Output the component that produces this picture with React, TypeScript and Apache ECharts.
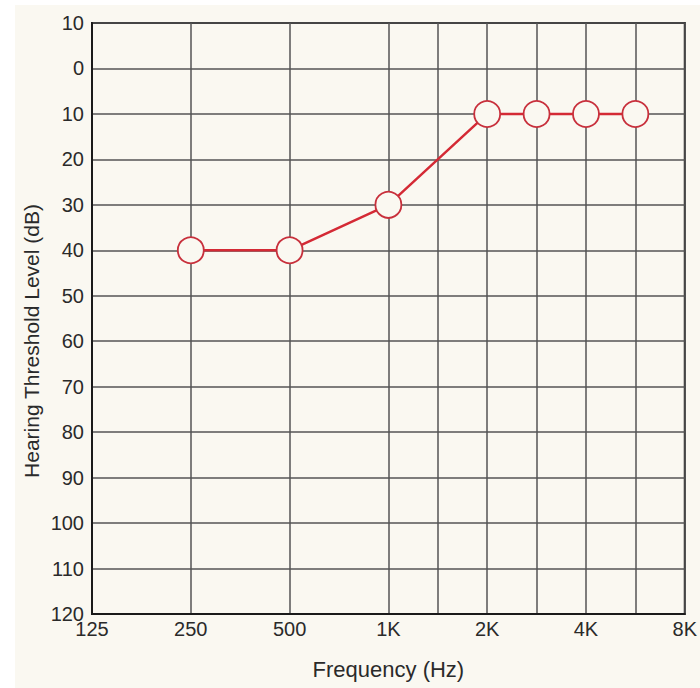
import React, { useEffect, useRef } from "react";
import * as echarts from "echarts";

// Half-octave frequency slots along the audiogram's x axis
const freqCategories = ["125", "177", "250", "354", "500", "750", "1K", "1.5K", "2K", "3K", "4K", "6K", "8K"];
// Octave labels shown under the axis
const freqTickLabels = ["125", "250", "500", "1K", "2K", "4K", "8K"];
// Frequencies that get a vertical grid line
const gridFrequencies = ["125", "250", "500", "1K", "1.5K", "2K", "3K", "4K", "6K", "8K"];
// Measured points
const measuredFrequencies = ["250", "500", "1K", "2K", "3K", "4K", "6K"];
const thresholdsDb = [40, 40, 30, 10, 10, 10, 10];

const CREAM = "#faf8f1";

export default function App() {
  const ref = useRef<HTMLDivElement>(null);

  useEffect(() => {
    document.body.style.margin = "0";
    if (!ref.current) return;
    const chart = echarts.init(ref.current, null, { renderer: "svg" });
    const font = "'Liberation Sans', Arial, Helvetica, sans-serif";
    chart.setOption({
      animation: false,
      backgroundColor: "#ffffff",
      graphic: [
        {
          type: "rect",
          z: -10,
          silent: true,
          shape: { x: 15, y: 5, width: 700, height: 700 },
          style: { fill: CREAM },
        },
        {
          type: "text",
          x: 31,
          y: 341,
          rotation: Math.PI / 2,
          style: {
            text: "Hearing Threshold Level (dB)",
            fontFamily: font,
            fontSize: 21,
            fill: "#2a2a2a",
            textAlign: "center",
            textVerticalAlign: "middle",
          },
        },
      ],
      grid: {
        left: 92,
        right: 14,
        top: 23,
        bottom: 74,
        show: true,
        backgroundColor: CREAM,
        borderColor: "#1a1a1a",
        borderWidth: 2,
      },
      xAxis: {
        type: "category",
        data: freqCategories,
        boundaryGap: false,
        name: "Frequency (Hz)",
        nameLocation: "middle",
        nameGap: 44,
        nameTextStyle: { fontFamily: font, fontSize: 22, color: "#2a2a2a" },
        axisLine: { onZero: false, lineStyle: { color: "#1a1a1a", width: 2 } },
        axisTick: { show: false },
        axisLabel: {
          interval: (i: number) => freqTickLabels.includes(freqCategories[i]),
          fontFamily: font,
          fontSize: 20,
          color: "#2a2a2a",
          margin: 5,
        },
        splitLine: {
          show: true,
          interval: (i: number) => gridFrequencies.includes(freqCategories[i]),
          lineStyle: { color: "#555555", width: 1.5 },
        },
      },
      yAxis: {
        type: "value",
        inverse: true,
        min: -10,
        max: 120,
        interval: 10,
        axisLine: { show: true, onZero: false, lineStyle: { color: "#1a1a1a", width: 2 } },
        axisTick: { show: false },
        axisLabel: {
          formatter: (v: number) => String(Math.abs(v)),
          fontFamily: font,
          fontSize: 20,
          color: "#2a2a2a",
          margin: 8,
        },
        splitLine: { show: true, lineStyle: { color: "#555555", width: 1.5 } },
      },
      series: [
        {
          type: "line",
          data: measuredFrequencies.map((f, i) => [f, thresholdsDb[i]]),
          symbol: "circle",
          symbolSize: 26,
          lineStyle: { color: "#d42a35", width: 2.5 },
          itemStyle: { color: CREAM, borderColor: "#c8303c", borderWidth: 1.8 },
          z: 5,
        },
      ],
    });
    return () => chart.dispose();
  }, []);

  return <div ref={ref} style={{ width: 700, height: 688 }} />;
}
